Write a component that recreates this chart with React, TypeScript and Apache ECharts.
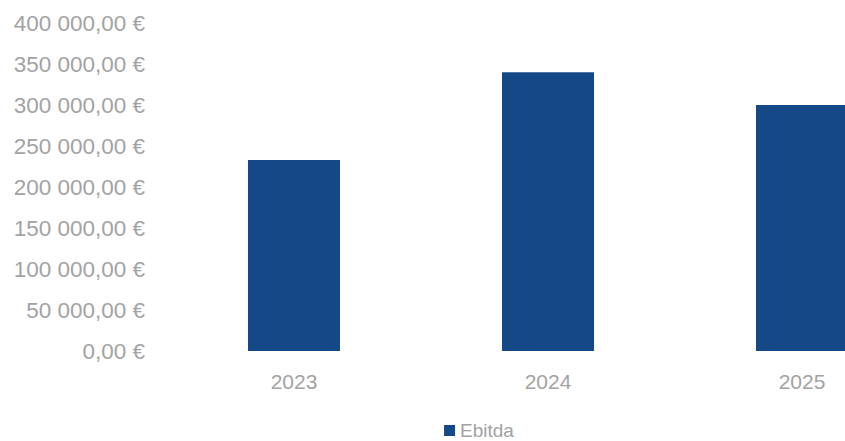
import React, { useEffect, useRef } from "react";
import * as echarts from "echarts";

const categories = ["2023", "2024", "2025"];
const ebitda = [233000, 340000, 300000];
const seriesName = "Ebitda";

const fmt = (v: number) => {
  const intPart = Math.round(v)
    .toString()
    .replace(/\B(?=(\d{3})+(?!\d))/g, " ");
  return intPart + ",00 €";
};

export default function App() {
  const ref = useRef<HTMLDivElement>(null);
  useEffect(() => {
    document.body.style.margin = "0";
    const chart = echarts.init(ref.current!, null, { renderer: "svg" });
    const textColor = "#a3a3a3";
    const font = "Liberation Sans";
    chart.setOption({
      animation: false,
      backgroundColor: "#ffffff",
      grid: { left: 167, right: 29, top: 23, bottom: 90, containLabel: false },
      legend: {
        data: [seriesName],
        top: 421,
        left: "center",
        padding: 0,
        icon: "rect",
        itemWidth: 11,
        itemHeight: 11,
        itemGap: 10,
        textStyle: { color: textColor, fontSize: 19, lineHeight: 19, fontFamily: font },
      },
      xAxis: {
        type: "category",
        data: categories,
        axisLine: { show: false },
        axisTick: { show: false },
        axisLabel: { color: textColor, fontSize: 21, fontFamily: font, margin: 20 },
      },
      yAxis: {
        type: "value",
        min: 0,
        max: 400000,
        interval: 50000,
        splitLine: { show: false },
        axisLine: { show: false },
        axisTick: { show: false },
        axisLabel: {
          color: textColor,
          fontSize: 22.5,
          fontFamily: font,
          margin: 22,
          formatter: (v: number) => fmt(v),
        },
      },
      series: [
        {
          name: seriesName,
          type: "bar",
          data: ebitda,
          barWidth: 92,
          itemStyle: { color: "#144887" },
        },
      ],
    });
    return () => chart.dispose();
  }, []);
  return (
    <div
      style={{
        position: "fixed",
        left: 0,
        top: 0,
        width: 845,
        height: 441,
        overflow: "hidden",
        background: "#fff",
      }}
    >
      <div ref={ref} style={{ width: 958, height: 441 }} />
    </div>
  );
}
